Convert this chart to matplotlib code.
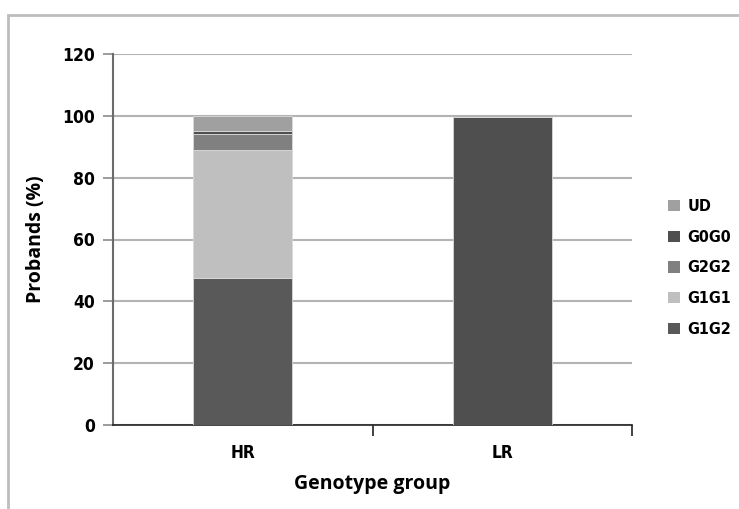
import matplotlib
matplotlib.use("Agg")
import matplotlib.pyplot as plt
from matplotlib.patches import Rectangle
import numpy as np

categories = ["HR", "LR"]
series_names = ["G1G2", "G1G1", "G2G2", "G0G0", "UD"]
g1g2 = [47.5, 0.0]
g1g1 = [41.4, 0.0]
g2g2 = [5.1, 0.0]
g0g0 = [1.1, 99.7]
ud = [4.7, 0.0]
colors = ["#595959", "#bfbfbf", "#808080", "#4f4f4f", "#a0a0a0"]
yticks = [0, 20, 40, 60, 80, 100, 120]

W, H = 739, 509
fig = plt.figure(figsize=(W / 100, H / 100), dpi=100)
ax = fig.add_axes([113 / W, 1 - 425 / H, (632 - 113) / W, (425 - 54) / H])

# chart border
fig.patches.append(Rectangle((8 / W, -0.1), 1.2, (1 - 15 / H) + 0.1, transform=fig.transFigure,
                             fill=False, edgecolor="#bdbdbd", linewidth=2, zorder=0))

x = np.arange(len(categories))
bottom = np.zeros(len(categories))
data = [g1g2, g1g1, g2g2, g0g0, ud]
handles = []
for name, vals, c in zip(series_names, data, colors):
    vals = np.array(vals)
    b = ax.bar(x, vals, width=0.38, bottom=bottom, color=c, edgecolor="#d9d9d9",
               linewidth=0.6, zorder=3, label=name)
    handles.append(b)
    bottom += vals

ax.set_xlim(-0.5, 1.5)
ax.set_ylim(0, 120)
ax.set_yticks(yticks)
ax.set_yticklabels([str(v) for v in yticks])
ax.yaxis.grid(True, color="#b3b3b3", linewidth=1.5, zorder=0)
ax.set_axisbelow(True)

for s in ["top", "right"]:
    ax.spines[s].set_visible(False)
ax.spines["left"].set_color("#6b6b6b")
ax.spines["left"].set_linewidth(1.5)
ax.spines["bottom"].set_color("#222222")
ax.spines["bottom"].set_linewidth(1.2)

ax.set_xticks(x)
ax.set_xticklabels(categories)
ax.tick_params(axis="x", length=0, pad=14)
ax.set_xticks([0.5, 1.5], minor=True)
ax.tick_params(axis="x", which="minor", length=8, width=1.2, color="#222222", direction="out")
ax.tick_params(axis="y", length=7, width=1.2, color="#8a8a8a", pad=6)

for lab in ax.get_xticklabels() + ax.get_yticklabels():
    lab.set_fontfamily("DejaVu Sans")
    lab.set_fontstretch("condensed")
    lab.set_fontweight("bold")
    lab.set_fontsize(12.5)

title_font = dict(fontsize=14, fontweight="bold", family=["Open Sans", "DejaVu Sans"])
ax.set_xlabel("Genotype group", labelpad=8, **title_font)
ax.set_ylabel("Probands (%)", labelpad=12, **title_font)

leg = fig.legend(handles[::-1], series_names[::-1], loc="center left",
                 bbox_to_anchor=(654 / W, 1 - 268 / H), frameon=False,
                 prop=dict(family="DejaVu Sans", stretch="condensed", weight="bold", size=11.5),
                 handlelength=0.7, handleheight=0.7, handletextpad=0.5, labelspacing=0.99)
for p in leg.get_patches():
    p.set_edgecolor("none")

fig.savefig("out.png", dpi=100)
